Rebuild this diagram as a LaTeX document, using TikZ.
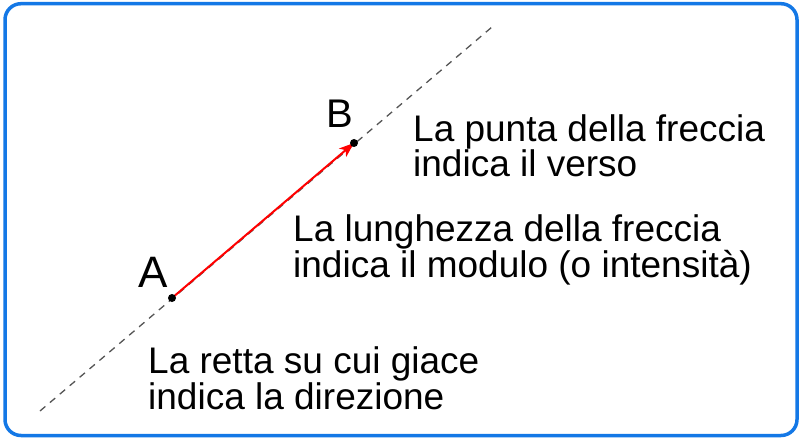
\documentclass[tikz,border=0pt]{standalone}
\usepackage{fontspec}
\setmainfont{Liberation Sans}
\usetikzlibrary{calc, arrows.meta}
\definecolor{bordo}{RGB}{20,120,230}
\definecolor{retta}{RGB}{85,85,85}
\tikzset{
  punto/.style={circle, fill=black, inner sep=0pt, minimum size=8pt},
  didascalia/.style={anchor=base west, align=left, inner sep=0pt,
    font=\fontsize{37}{32}\selectfont},
}

\begin{document}
\begin{tikzpicture}[x=1pt, y=-1pt]
                \useasboundingbox (0,0) rectangle (799,438);
                \draw[bordo, line width=3.5pt, rounded corners=16pt] (5,3.7) rectangle (797,435.5);
                % retta d'azione
                \coordinate (basso) at (40,411);
                \coordinate (alto) at (492,27);
                \draw[retta, dashed, dash pattern=on 7pt off 6pt, line width=1.3pt] (basso)--(alto);
                % vettore
                \coordinate (A) at (172,298);
                \coordinate (B) at (354,143);
                \draw[red, line width=2pt, -{Stealth[length=15pt, width=11pt, inset=4pt]}] (A)--(B);
                \node[punto] (pA) at (A) {};
                \node[punto] (pB) at (B) {};
                \node[anchor=base west, inner sep=0pt, font=\fontsize{44}{44}\selectfont] (etA) at (138,287) {A};
                \node[anchor=base west, inner sep=0pt, font=\fontsize{40}{40}\selectfont] (etB) at (326,128) {B};
                % testi (ancorati alla seconda riga)
                \node[didascalia] (verso) at (413,177) {La punta della freccia\\indica il verso};
                \node[didascalia] (modulo) at (293,277) {La lunghezza della freccia\\indica il modulo (o intensità)};
                \node[didascalia] (direzione) at (148,409) {La retta su cui giace\\indica la direzione};
            \end{tikzpicture}
\end{document}
